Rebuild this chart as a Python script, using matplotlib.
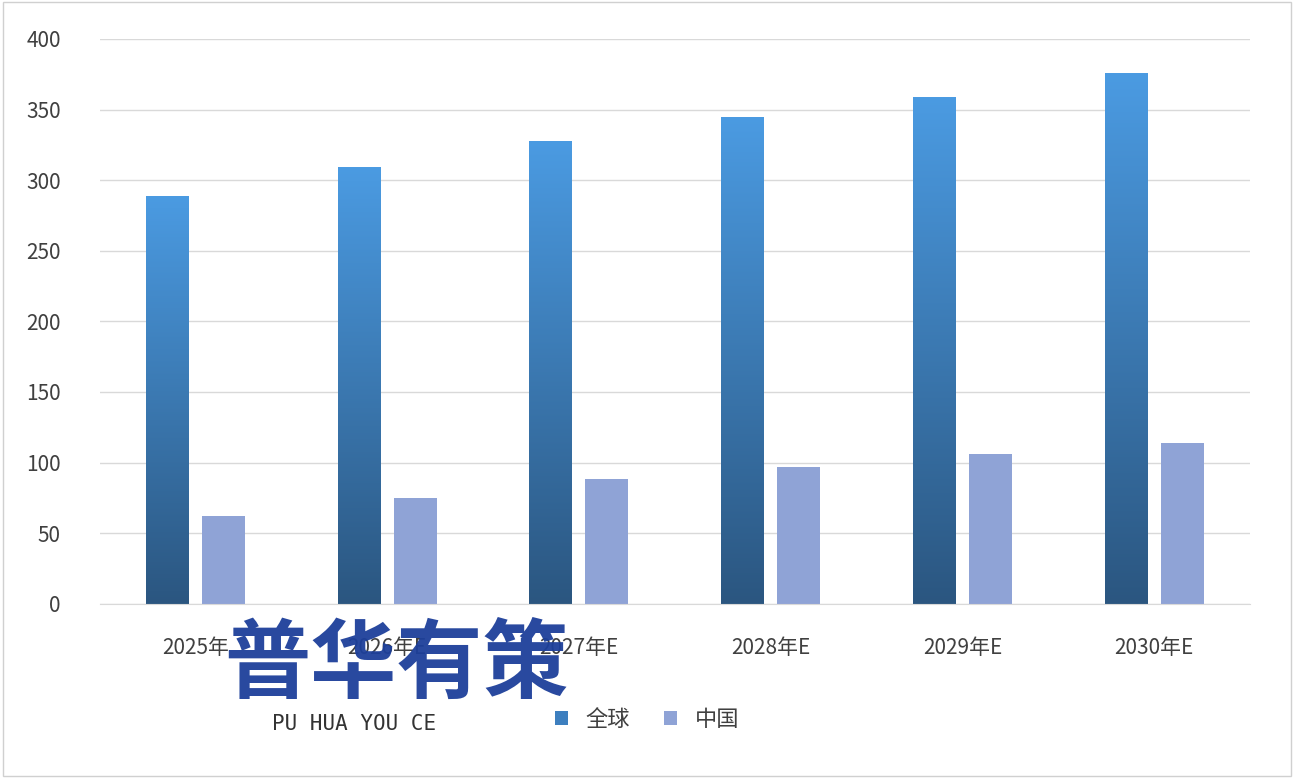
import matplotlib
matplotlib.use("Agg")
import matplotlib.pyplot as plt
import numpy as np
from matplotlib.patches import Rectangle, Patch
from matplotlib.colors import LinearSegmentedColormap

plt.rcParams['font.family'] = ['Noto Sans CJK SC', 'DejaVu Sans']

categories = ["2025年", "2026年E", "2027年E", "2028年E", "2029年E", "2030年E"]
global_vals = [289, 309, 328, 345, 359, 376]
china_vals = [62, 75, 88, 97, 106, 114]

fig = plt.figure(figsize=(12.94, 7.78), dpi=100)
ax = fig.add_axes([0.077, 0.224, 0.889, 0.726])

w = 0.224
off = 0.146
cmap = LinearSegmentedColormap.from_list("g", ["#2b5680", "#4b9be2"])
grad = np.linspace(0, 1, 256).reshape(-1, 1)
x = np.arange(len(categories))
for i, (g, c) in enumerate(zip(global_vals, china_vals)):
    x0 = x[i] - off - w / 2
    r = Rectangle((x0, 0), w, g, facecolor="none", edgecolor="none")
    ax.add_patch(r)
    im = ax.imshow(grad, cmap=cmap, origin="lower", aspect="auto",
                   extent=(x0, x0 + w, 0, g), zorder=2)
    im.set_clip_path(r)
    ax.bar(x[i] + off, c, width=w, color="#8fa3d6", zorder=2)

ax.set_xlim(-0.5, len(categories) - 0.5)
ax.set_ylim(0, 400)
ax.set_yticks(range(0, 401, 50))
ax.yaxis.grid(True, color="#d9d9d9", linewidth=1, zorder=0)
ax.set_axisbelow(True)
ax.set_xticks(x)
ax.set_xticklabels(categories, fontsize=15, color="#404040")
ax.tick_params(axis="y", labelsize=15, labelcolor="#404040", length=0, pad=28)
ax.tick_params(axis="x", length=0, pad=24)
for s in ["top", "right", "left"]:
    ax.spines[s].set_visible(False)
ax.spines["bottom"].set_color("#d9d9d9")

handles = [Patch(facecolor="#3d7fbf", label="全球"), Patch(facecolor="#8fa3d6", label="中国")]
fig.legend(handles=handles, loc="center", bbox_to_anchor=(0.5, 0.075), ncol=2,
           frameon=False, fontsize=16, handlelength=0.6, handleheight=0.6,
           columnspacing=1.5, labelcolor="#404040")

# watermark
fig.text(0.173, 0.112, "普华有策", fontsize=62, color="#1d3f9a", fontweight="bold", alpha=0.95)
fig.text(0.21, 0.062, "PU HUA YOU CE", fontsize=15, color="#333333", family="DejaVu Sans Mono")

fig.patches.append(Rectangle((0.002, 0.002), 0.996, 0.996, transform=fig.transFigure,
                             fill=False, edgecolor="#d0d0d0", linewidth=1))
fig.savefig("out.png", dpi=100)
